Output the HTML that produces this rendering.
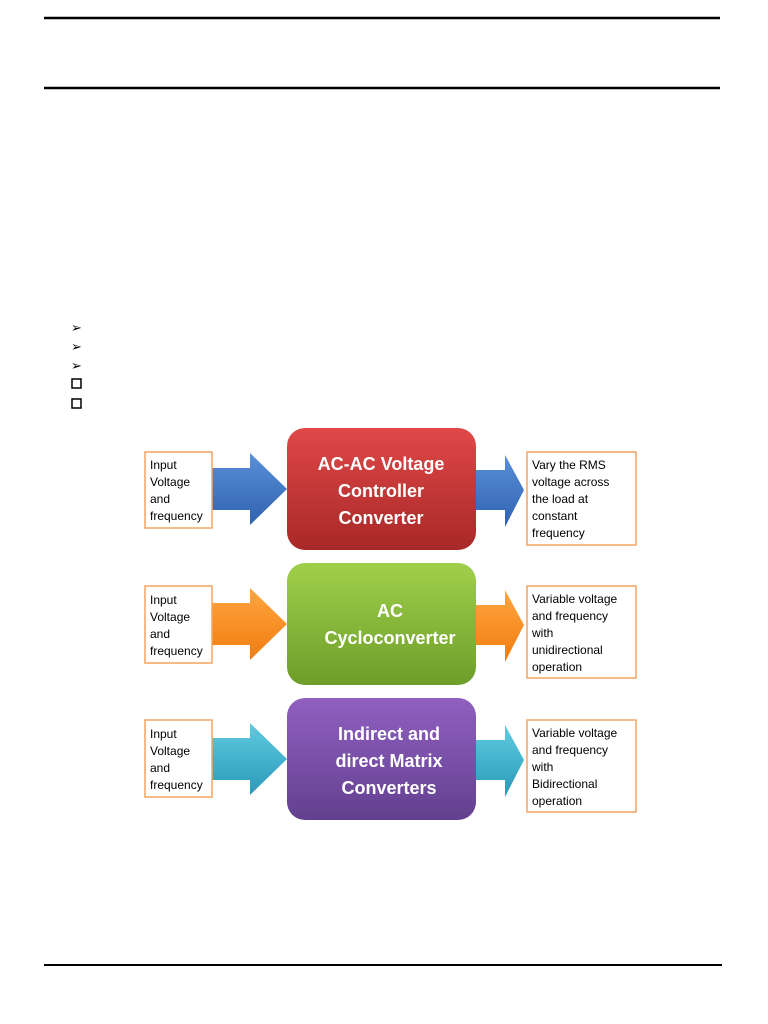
<!DOCTYPE html>
<html><head><style>body{margin:0;background:#fff}svg{display:block}</style></head><body>
<svg width="768" height="1024" viewBox="0 0 768 1024" xmlns="http://www.w3.org/2000/svg" font-family="Liberation Sans, sans-serif">
<defs>
<linearGradient id="r" x1="0" y1="0" x2="0" y2="1"><stop offset="0" stop-color="#e04848"/><stop offset="1" stop-color="#a82828"/></linearGradient>
<linearGradient id="g" x1="0" y1="0" x2="0" y2="1"><stop offset="0" stop-color="#9fcf4a"/><stop offset="1" stop-color="#6e9e2a"/></linearGradient>
<linearGradient id="p" x1="0" y1="0" x2="0" y2="1"><stop offset="0" stop-color="#9060c0"/><stop offset="1" stop-color="#63408f"/></linearGradient>
<linearGradient id="b" x1="0" y1="0" x2="0" y2="1"><stop offset="0" stop-color="#5a90d8"/><stop offset="1" stop-color="#2f62b0"/></linearGradient>
<linearGradient id="o" x1="0" y1="0" x2="0" y2="1"><stop offset="0" stop-color="#ffa640"/><stop offset="1" stop-color="#f07c10"/></linearGradient>
<linearGradient id="c" x1="0" y1="0" x2="0" y2="1"><stop offset="0" stop-color="#5fcbe0"/><stop offset="1" stop-color="#2a9ab8"/></linearGradient>
</defs>
<line x1="44" y1="18" x2="720" y2="18" stroke="#000" stroke-width="2.5"/>
<line x1="44" y1="88" x2="720" y2="88" stroke="#000" stroke-width="2.5"/>
<line x1="44" y1="965" x2="722" y2="965" stroke="#000" stroke-width="2"/>
<g font-size="13" fill="#000">
<text x="71" y="332">➢</text><text x="71" y="351">➢</text><text x="71" y="370">➢</text>
</g>
<rect x="72" y="379" width="9" height="9" fill="none" stroke="#000" stroke-width="1.5"/>
<rect x="72" y="399" width="9" height="9" fill="none" stroke="#000" stroke-width="1.5"/>

<g id="row1">
<polygon points="212,468 250,468 250,453 287,489 250,525 250,510 212,510" fill="url(#b)"/>
<polygon points="476,470 505,470 505,455 524,490 505,527 505,510 476,510" fill="url(#b)"/>
<rect x="287" y="428" width="189" height="122" rx="18" fill="url(#r)"/>
<g fill="#fff" font-weight="bold" font-size="18" text-anchor="middle">
<text x="381" y="470">AC-AC Voltage</text><text x="381" y="497">Controller</text><text x="381" y="524">Converter</text></g>
<rect x="145" y="452" width="67" height="76" fill="#fff" stroke="#f4a460" stroke-width="1.5"/>
<g font-size="12"><text x="150" y="469">Input</text><text x="150" y="486">Voltage</text><text x="150" y="503">and</text><text x="150" y="520">frequency</text></g>
<rect x="527" y="452" width="109" height="93" fill="#fff" stroke="#f4a460" stroke-width="1.5"/>
<g font-size="12"><text x="532" y="469">Vary the RMS</text><text x="532" y="486">voltage across</text><text x="532" y="503">the load at</text><text x="532" y="520">constant</text><text x="532" y="537">frequency</text></g>
</g>

<polygon points="212,603 250,603 250,588 287,624 250,660 250,645 212,645" fill="url(#o)"/>
<polygon points="476,605 505,605 505,590 524,625 505,662 505,645 476,645" fill="url(#o)"/>
<rect x="287" y="563" width="189" height="122" rx="18" fill="url(#g)"/>
<g fill="#fff" font-weight="bold" font-size="18" text-anchor="middle">
<text x="390" y="617">AC</text><text x="390" y="644">Cycloconverter</text></g>
<rect x="145" y="586" width="67" height="77" fill="#fff" stroke="#f4a460" stroke-width="1.5"/>
<g font-size="12"><text x="150" y="604">Input</text><text x="150" y="621">Voltage</text><text x="150" y="638">and</text><text x="150" y="655">frequency</text></g>
<rect x="527" y="586" width="109" height="92" fill="#fff" stroke="#f4a460" stroke-width="1.5"/>
<g font-size="12"><text x="532" y="603">Variable voltage</text><text x="532" y="620">and frequency</text><text x="532" y="637">with</text><text x="532" y="654">unidirectional</text><text x="532" y="671">operation</text></g>

<polygon points="212,738 250,738 250,723 287,759 250,795 250,780 212,780" fill="url(#c)"/>
<polygon points="476,740 505,740 505,725 524,760 505,797 505,780 476,780" fill="url(#c)"/>
<rect x="287" y="698" width="189" height="122" rx="18" fill="url(#p)"/>
<g fill="#fff" font-weight="bold" font-size="18" text-anchor="middle">
<text x="389" y="740">Indirect and</text><text x="389" y="767">direct Matrix</text><text x="389" y="794">Converters</text></g>
<rect x="145" y="720" width="67" height="77" fill="#fff" stroke="#f4a460" stroke-width="1.5"/>
<g font-size="12"><text x="150" y="738">Input</text><text x="150" y="755">Voltage</text><text x="150" y="772">and</text><text x="150" y="789">frequency</text></g>
<rect x="527" y="720" width="109" height="92" fill="#fff" stroke="#f4a460" stroke-width="1.5"/>
<g font-size="12"><text x="532" y="737">Variable voltage</text><text x="532" y="754">and frequency</text><text x="532" y="771">with</text><text x="532" y="788">Bidirectional</text><text x="532" y="805">operation</text></g>
</svg>
</body></html>
